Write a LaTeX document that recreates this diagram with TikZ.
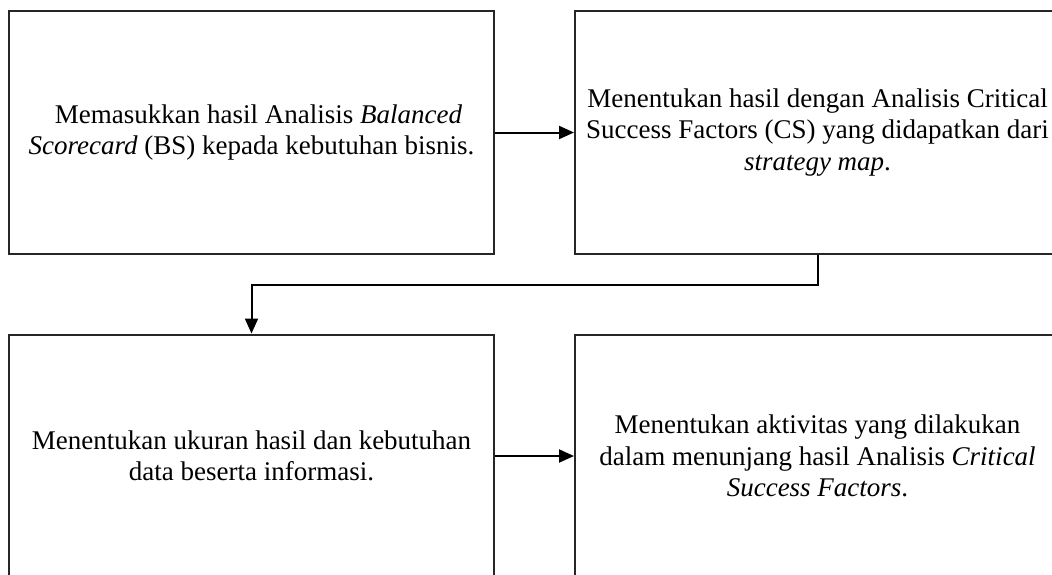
\documentclass[tikz,border=0pt]{standalone}
\usepackage{fontspec}
\setmainfont{Liberation Serif}
\usetikzlibrary{arrows.meta}
\begin{document}
\begin{tikzpicture}[x=1pt,y=-1pt,
  stagebox/.style={draw=black!85, line width=2pt, minimum width=485pt,
    minimum height=243pt, align=center, inner sep=0pt,
    font=\fontsize{27}{31.5}\selectfont},
  flow/.style={line width=2pt, -{Triangle[length=15pt,width=13pt]}}]
\useasboundingbox (0,0) rectangle (1052,574);
\node[stagebox] (tl) at (251.5,132.5)
  {\hspace*{14pt}Memasukkan hasil Analisis \textit{Balanced}\\
   \textit{Scorecard} (BS) kepada kebutuhan bisnis.};
\node[stagebox] (tr) at (817.5,132.5)
  {Menentukan hasil dengan Analisis Critical\\
   Success Factors (CS) yang didapatkan dari\\
   \textit{strategy map}.};
\node[stagebox] (bl) at (251.5,456)
  {Menentukan ukuran hasil dan kebutuhan\\
   data beserta informasi.};
\node[stagebox] (br) at (817.5,456)
  {Menentukan aktivitas yang dilakukan\\
   dalam menunjang hasil Analisis \textit{Critical}\\
   \textit{Success Factors}.};
\draw[flow] (tl.east) -- (tr.west);
\draw[flow] (tr.south) -- ++(0,30) -| (bl.north);
\draw[flow] (bl.east) -- (br.west);
\end{tikzpicture}
\end{document}
